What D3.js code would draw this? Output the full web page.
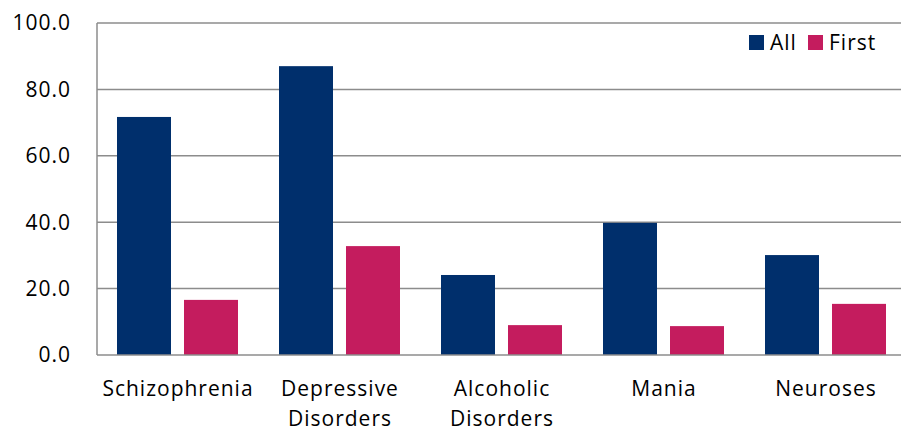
<!DOCTYPE html>
<html><head><meta charset="utf-8">
<script src="https://cdn.jsdelivr.net/npm/d3@7"></script>
<style>body{margin:0;background:#fff}svg{display:block}text{font-family:"Open Sans",Lato,sans-serif;fill:#000;letter-spacing:1px}</style>
</head><body><svg id="c" width="901" height="432"></svg>
<script>
const categories = [["Schizophrenia"],["Depressive","Disorders"],["Alcoholic","Disorders"],["Mania"],["Neuroses"]];
const seriesNames = ["All","First"];
const allValues = [71.7, 87.0, 24.1, 39.8, 30.1];
const firstValues = [16.6, 32.8, 9.0, 8.7, 15.4];
const yTicks = [0,20,40,60,80,100];
const colors = ["#002F6C","#C41C5E"];

const svg = d3.select("#c");
const m = {l:97, r:-6, t:23, b:77};
const W = 901, H = 432;
const FS = 21;
const x = d3.scaleBand().domain(d3.range(categories.length)).range([m.l, W - m.r]).paddingInner(0).paddingOuter(0);
const x1 = d3.scaleBand().domain([0,1]).range([20, x.bandwidth()-21]).paddingInner(13/67);
const y = d3.scaleLinear().domain([0,100]).range([H - m.b, m.t]);

// gridlines
svg.append("g").selectAll("line").data(yTicks.filter(d=>d>0)).join("line")
  .attr("x1", m.l).attr("x2", W).attr("y1", d=>y(d)).attr("y2", d=>y(d))
  .attr("stroke","#8c8c8c").attr("stroke-width",1.5);

const data = [allValues, firstValues];
const g = svg.append("g");
categories.forEach((c,i)=>{
  data.forEach((vals,s)=>{
    g.append("rect").attr("x", x(i)+x1(s)).attr("width", x1.bandwidth())
      .attr("y", y(vals[i])).attr("height", y(0)-y(vals[i])).attr("fill", colors[s]);
  });
});

// axes lines
svg.append("line").attr("x1",m.l).attr("x2",m.l).attr("y1",y(100)).attr("y2",y(0)).attr("stroke","#8c8c8c").attr("stroke-width",1.5);
svg.append("line").attr("x1",m.l).attr("x2",W).attr("y1",y(0)).attr("y2",y(0)).attr("stroke","#8c8c8c").attr("stroke-width",1.5);

// y labels
svg.append("g").selectAll("text").data(yTicks).join("text")
  .attr("x", 71).attr("y", d=>y(d)).attr("dy","0.35em").attr("text-anchor","end")
  .attr("font-size",FS).text(d=>d.toFixed(1));

// x labels
categories.forEach((c,i)=>{
  const cx = x(i)+x.bandwidth()/2;
  const t = svg.append("text").attr("text-anchor","middle").attr("font-size",FS)
    .attr("x", cx).attr("y", 396);
  c.forEach((line,j)=>t.append("tspan").attr("x", cx).attr("dy", j?30:0).text(line));
});

// legend
const lg = svg.append("g");
const lx = [749, 808];
seriesNames.forEach((n,s)=>{
  lg.append("rect").attr("x",lx[s]).attr("y",35).attr("width",15).attr("height",15).attr("fill",colors[s]);
  lg.append("text").attr("x",lx[s]+21).attr("y",43).attr("dy","0.35em").attr("font-size",FS).text(n);
});
</script></body></html>
